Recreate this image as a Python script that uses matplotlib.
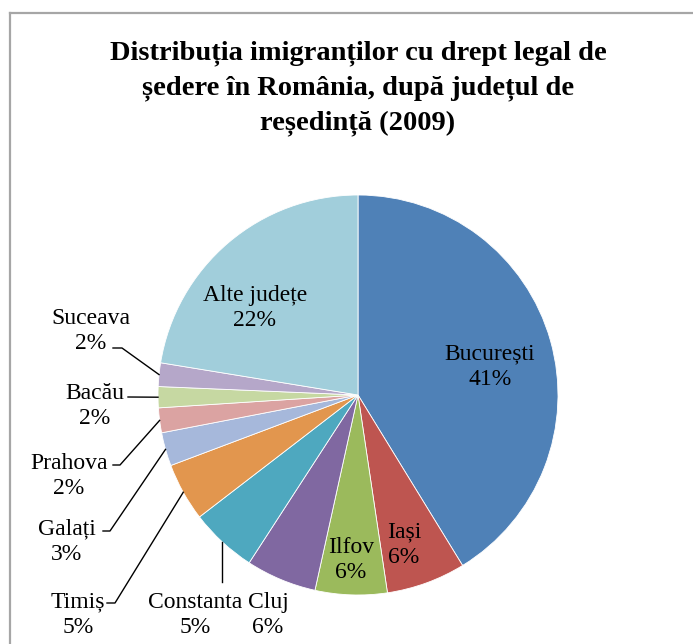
import numpy as np
import matplotlib.pyplot as plt
from matplotlib.lines import Line2D

# slices, clockwise from 12 o'clock (shares)
judete = ['București', 'Iași', 'Ilfov', 'Cluj', 'Constanta', 'Timiș',
          'Galați', 'Prahova', 'Bacău', 'Suceava', 'Alte județe']
procente = [41.2, 6.4, 5.8, 5.7, 5.4, 4.7, 2.7, 2.0, 1.7, 1.9, 22.4]
culori = ['#4F81B7', '#BE5550', '#9BBA5C', '#8068A1', '#4EA8BF', '#E2964E',
          '#A6B8DB', '#DBA3A2', '#C6D8A2', '#B5A7C9', '#A1CEDB']

titlu = 'Distribuția imigranților cu drept legal de\nședere în România, după județul de\nreședință (2009)'

plt.rcParams['font.family'] = ['Liberation Serif', 'DejaVu Serif']

W, H = 693, 644
fig = plt.figure(figsize=(W / 100, H / 100), dpi=100)

# pie centre (358, 395) px, radius 200 px
cx, cy, r = 358, 395, 200
ax = fig.add_axes([(cx - r) / W, (H - cy - r) / H, 2 * r / W, 2 * r / H])
wedges, _ = ax.pie(procente, colors=culori, startangle=90, counterclock=False,
                   radius=1, wedgeprops=dict(edgecolor='white', linewidth=0.6))
ax.set_xlim(-1, 1)
ax.set_ylim(-1, 1)
ax.set_aspect('equal')
ax.axis('off')

def px(x, y):
    # figure pixels -> data coords of the pie axes
    return (x - cx) / r, (cy - y) / r

def mid(w, f=1.0):
    a = np.deg2rad((w.theta1 + w.theta2) / 2)
    return f * np.cos(a), f * np.sin(a)

fs = 17
ls = 1.3
# labels inside the slices
inside = {'București': (490, 367), 'Iași': (404, 545), 'Ilfov': (351, 560),
          'Alte județe': (255, 308)}
# labels outside: text centre, leader path start (px)
outside = {
    'Suceava': ((91, 331), [(113, 348), (122, 348)]),
    'Bacău': ((95, 406), [(128, 397)]),
    'Prahova': ((69, 476), [(113, 465), (120, 465)]),
    'Galați': ((67, 542), [(103, 531), (110, 531)]),
    'Timiș': ((78, 615), [(107, 603), (115, 603)]),
    'Constanta': ((195, 615), [(223, 582)]),
    'Cluj': ((268, 615), []),
}

for w, nume, p in zip(wedges, judete, procente):
    txt = f'{nume}\n{round(p)}%'
    if nume in inside:
        x, y = px(*inside[nume])
        ax.text(x, y, txt, ha='center', va='center', fontsize=fs, linespacing=ls)
    else:
        (tx, ty), path = outside[nume]
        x, y = px(tx, ty)
        ax.text(x, y, txt, ha='center', va='center', fontsize=fs, linespacing=ls)
        if path:
            pts = [px(a, b) for a, b in path]
            if nume == 'Constanta':
                ex, ey = mid(w)
                pts = [(ex, pts[0][1]), (ex, ey)]
            else:
                pts.append(mid(w))
            xs, ys = zip(*pts)
            ax.plot(xs, ys, color='black', lw=1, clip_on=False)

fig.text(358 / W, 1 - 88 / H, titlu, ha='center', va='center', fontsize=20.5,
         fontweight='bold', linespacing=1.48)

# chart area border (top and left edges visible)
fig.add_artist(Line2D([10 / W, 1], [1 - 13 / H, 1 - 13 / H], color='#A6A6A6', lw=1.6))
fig.add_artist(Line2D([10 / W, 10 / W], [0, 1 - 13 / H], color='#A6A6A6', lw=1.6))

fig.savefig('out.png', dpi=100)
